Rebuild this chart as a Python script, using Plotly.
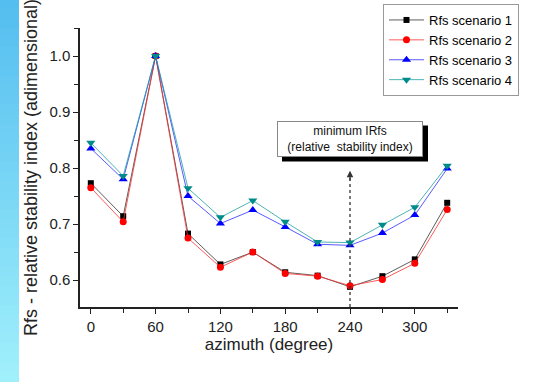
import plotly.graph_objects as go

azimuth = [0, 30, 60, 90, 120, 150, 180, 210, 240, 270, 300, 330]
rfs_s1 = [0.773, 0.714, 1.0, 0.683, 0.628, 0.650, 0.614, 0.608, 0.588, 0.607, 0.637, 0.738]
rfs_s2 = [0.765, 0.704, 1.0, 0.675, 0.623, 0.650, 0.612, 0.607, 0.590, 0.601, 0.630, 0.726]
rfs_s3 = [0.835, 0.780, 1.0, 0.750, 0.701, 0.725, 0.695, 0.664, 0.662, 0.684, 0.716, 0.799]
rfs_s4 = [0.845, 0.786, 1.0, 0.764, 0.712, 0.742, 0.704, 0.668, 0.667, 0.699, 0.730, 0.804]
series_names = ["Rfs scenario 1", "Rfs scenario 2", "Rfs scenario 3", "Rfs scenario 4"]
x_tick_vals = [0, 60, 120, 180, 240, 300]
y_tick_vals = [0.6, 0.7, 0.8, 0.9, 1.0]
min_azimuth = 240
box_y = 0.851

FONT = "Arial, Liberation Sans, sans-serif"

W, H = 539, 382
ML, MR, MT, MB = 80, 81, 28, 75
PW, PH = W - ML - MR, H - MT - MB

styles = [
    dict(color="#000000", line="#333333", symbol="square", size=6),
    dict(color="#ff0000", line="#ff3030", symbol="circle", size=7),
    dict(color="#0000ff", line="#3030ff", symbol="triangle-up", size=8),
    dict(color="#008b8b", line="#20a0a0", symbol="triangle-down", size=8),
]

fig = go.Figure()
for name, vals, st in zip(series_names, [rfs_s1, rfs_s2, rfs_s3, rfs_s4], styles):
    fig.add_trace(go.Scatter(
        x=azimuth, y=vals, name=name, mode="lines+markers",
        line=dict(color=st["line"], width=0.8),
        marker=dict(color=st["color"], symbol=st["symbol"], size=st["size"], line=dict(width=0)),
    ))

# left gradient strip (decorative)
n = 40
for i in range(n):
    t = i / (n - 1)
    r = int(85 + (160 - 85) * t)
    g = int(190 + (240 - 190) * t)
    b = int(240 + (252 - 240) * t)
    top_px = i * H / n
    bot_px = (i + 1) * H / n
    fig.add_shape(type="rect", xref="paper", yref="paper",
                  x0=-ML / PW, x1=(19 - ML) / PW,
                  y0=1 - (bot_px - MT) / PH - 0.003,
                  y1=1 - (top_px - MT) / PH + 0.003,
                  fillcolor=f"rgb({r},{g},{b})", line=dict(width=0), layer="below")

# dashed vertical marker at minimum
fig.add_shape(type="line", xref="x", yref="paper", x0=min_azimuth, x1=min_azimuth,
              y0=0, y1=(0.785 - 0.552) / (1.05 - 0.552),
              line=dict(color="#333333", width=1.3, dash="dot"))
fig.add_annotation(x=min_azimuth, y=0.795, ax=min_azimuth, ay=0.775, xref="x", yref="y",
                   axref="x", ayref="y", text="", showarrow=True, arrowhead=2,
                   arrowsize=1, arrowwidth=1.3, arrowcolor="#333333")

# shadow of the annotation box
fig.add_shape(type="rect", xref="x", yref="y", xsizemode="pixel", ysizemode="pixel",
              xanchor=min_azimuth, yanchor=box_y, x0=-68, x1=78, y0=-22, y1=14,
              fillcolor="#000000", line=dict(width=0), layer="above")

box_text = "minimum IRfs<br>(relative  stability index)"
fig.add_annotation(x=min_azimuth, y=box_y, xref="x", yref="y", text=box_text,
                   showarrow=False, font=dict(family=FONT, size=12, color="#111111"),
                   bgcolor="#ffffff", bordercolor="#888888", borderwidth=1,
                   width=142, height=32)

fig.update_layout(
    width=W, height=H,
    margin=dict(l=ML, r=MR, t=MT, b=MB, autoexpand=False),
    paper_bgcolor="white", plot_bgcolor="white",
    font=dict(family=FONT, color="#222222"),
    showlegend=True,
    legend=dict(x=383 / W, y=1 - 4 / H, xref="container", yref="container",
                xanchor="left", yanchor="top",
                bgcolor="white", bordercolor="#999999", borderwidth=1,
                font=dict(family=FONT, size=13, color="#000000"),
                tracegroupgap=0, itemwidth=35),
    xaxis=dict(range=[-10, 340], tickvals=x_tick_vals, showgrid=False, zeroline=False,
               showline=True, linecolor="#222222", linewidth=1.5,
               ticks="outside", ticklen=5, tickcolor="#222222", tickwidth=1.2,
               minor=dict(dtick=30, tick0=0, ticks="outside", ticklen=4, tickcolor="#222222", showgrid=False),
               tickfont=dict(family=FONT, size=15, color="#222222"),
               title=dict(text="azimuth (degree)", font=dict(family=FONT, size=17, color="#222222"), standoff=2)),
    yaxis=dict(range=[0.552, 1.05], tickvals=y_tick_vals, tickformat=".1f",
               showgrid=False, zeroline=False,
               showline=True, linecolor="#222222", linewidth=1.5,
               ticks="outside", ticklen=5, tickcolor="#222222", tickwidth=1.2,
               minor=dict(dtick=0.05, tick0=0.6, ticks="outside", ticklen=4, tickcolor="#222222", showgrid=False),
               tickfont=dict(family=FONT, size=15, color="#222222"),
               title=dict(text="Rfs - relative stability index (adimensional)",
                          font=dict(family=FONT, size=18, color="#222222"), standoff=7)),
)

fig.write_html("out.html", config={"displayModeBar": False},
               post_script="document.body.style.margin='0';")
